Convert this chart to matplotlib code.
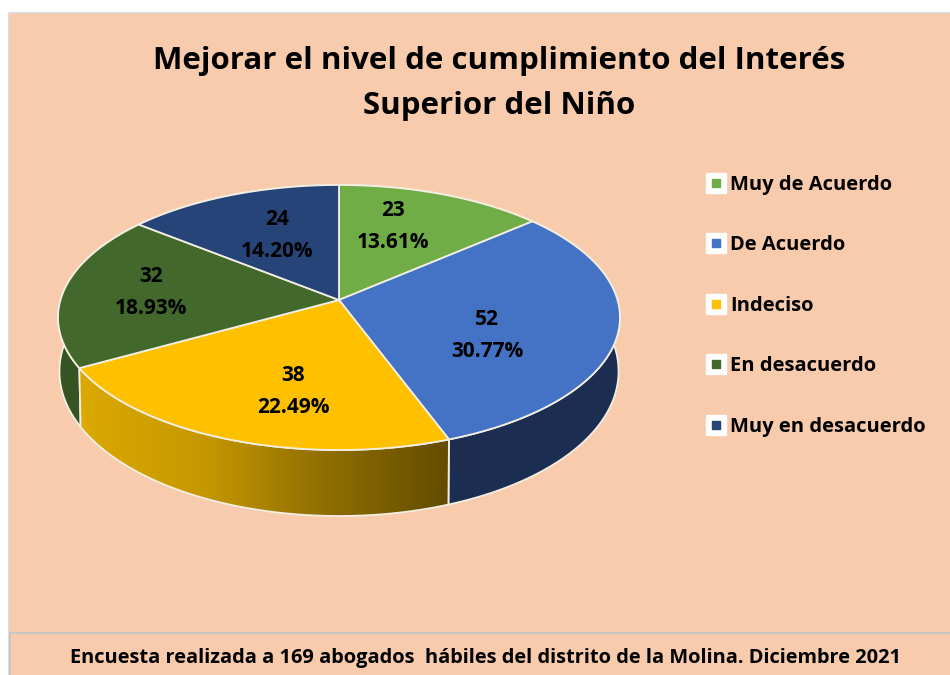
import numpy as np
import matplotlib
matplotlib.use("Agg")
import matplotlib.pyplot as plt
from matplotlib.lines import Line2D
from matplotlib.legend_handler import HandlerTuple
from matplotlib.patches import Polygon, Rectangle
from matplotlib.colors import LinearSegmentedColormap

categories = ["Muy de Acuerdo", "De Acuerdo", "Indeciso", "En desacuerdo", "Muy en desacuerdo"]
counts = [23, 52, 38, 32, 24]
percents = ["13.61%", "30.77%", "22.49%", "18.93%", "14.20%"]
title_text = "Mejorar el nivel de cumplimiento del Interés\nSuperior del Niño"
footer_text = "Encuesta realizada a 169 abogados  hábiles del distrito de la Molina. Diciembre 2021"

top_colors = ["#70AD47", "#4472C4", "#FFC000", "#43682B", "#264478"]
side_colors = ["#43682B", "#1B2D50", "#B58A00", "#365423", "#172A4D"]

plt.rcParams["font.family"] = ["Open Sans", "DejaVu Sans"]
plt.rcParams["font.weight"] = "bold"

BG = "#F7CBAC"
EDGE = "#F3EEE2"

fig = plt.figure(figsize=(9.5, 6.75), dpi=100, facecolor="white")
ax = fig.add_axes([0, 0, 1, 1])
ax.set_xlim(0, 950)
ax.set_ylim(675, 0)
ax.axis("off")

ax.add_patch(Rectangle((8.5, 12.5), 950, 700, fc=BG, ec="#DAD6D2", lw=1.2, zorder=0))
ax.add_patch(Rectangle((9.5, 633), 950, 60, fc=BG, ec="#BFC4C8", lw=1.2, zorder=0.5))


def project(theta, drop=False):
    """Perspective view of the unit disc; theta runs clockwise from the top."""
    u, v = np.sin(theta), np.cos(theta)
    den = 1 + 0.132 * v
    x = 339 + 278.5 * u / den
    y = 300 - 130.2 * v / den
    if drop:
        x = 339 + (x - 339) * 0.995
        y = y + (52 - 14 * v)
    return x, y


total = sum(counts)
edges = np.cumsum([0] + counts) / total * 2 * np.pi

for i in [0, 3, 4, 1, 2]:
    th = np.linspace(edges[i], edges[i + 1], 120)
    xt, yt = project(th)
    xb, yb = project(th, drop=True)
    pts = np.column_stack([np.r_[xt, xb[::-1]], np.r_[yt, yb[::-1]]])
    if categories[i] == "Indeciso":
        poly = Polygon(pts, closed=True, fc="none", ec="none", zorder=1)
        ax.add_patch(poly)
        cmap = LinearSegmentedColormap.from_list("g", ["#DBA900", "#C69800", "#8F6E00", "#634C00"])
        im = ax.imshow(np.linspace(0, 1, 256)[None, :], cmap=cmap, aspect="auto",
                       extent=(pts[:, 0].min(), pts[:, 0].max(), pts[:, 1].max(), pts[:, 1].min()),
                       zorder=1.1)
        im.set_clip_path(poly)
        ax.add_patch(Polygon(pts, closed=True, fc="none", ec=EDGE, lw=1.3, zorder=1.2))
    else:
        ax.add_patch(Polygon(pts, closed=True, fc=side_colors[i], ec=EDGE, lw=1.3, zorder=1))

for i in range(len(counts)):
    th = np.linspace(edges[i], edges[i + 1], 160)
    xt, yt = project(th)
    pts = np.column_stack([np.r_[339, xt], np.r_[300, yt]])
    ax.add_patch(Polygon(pts, closed=True, fc=top_colors[i], ec=EDGE, lw=1.3, zorder=2))

ax.set_xlim(0, 950)
ax.set_ylim(675, 0)

label_centres = [(393, 226.5), (487, 335.5), (293, 391.5), (151, 292.5), (277, 235.5)]
for (lx, ly), c, p in zip(label_centres, counts, percents):
    ax.text(lx, ly, f"{c}\n{p}", ha="center", va="center", fontsize=15, fontweight="bold",
            color="black", linespacing=1.63, zorder=3)

ax.text(499, 83.5, title_text, ha="center", va="center", fontsize=22.5, fontweight="bold",
        color="black", linespacing=1.67, zorder=3)
ax.text(486, 658, footer_text, ha="center", va="center", fontsize=14.4, fontweight="bold",
        color="black", zorder=3)

handles = [
    (Line2D([], [], ls="", marker="s", ms=14.5, mfc="white", mec="white"),
     Line2D([], [], ls="", marker="s", ms=6, mfc=col, mec=col))
    for col in top_colors
]
ax.legend(handles, categories, handler_map={tuple: HandlerTuple(ndivide=1, pad=0)},
          loc="upper left", bbox_to_anchor=(706 / 950, 1 - 175 / 675), frameon=False,
          fontsize=14.5, labelspacing=2.01, handlelength=1.0, handletextpad=0.2,
          borderpad=0, borderaxespad=0)

fig.savefig("out.png", dpi=100, facecolor="white")
